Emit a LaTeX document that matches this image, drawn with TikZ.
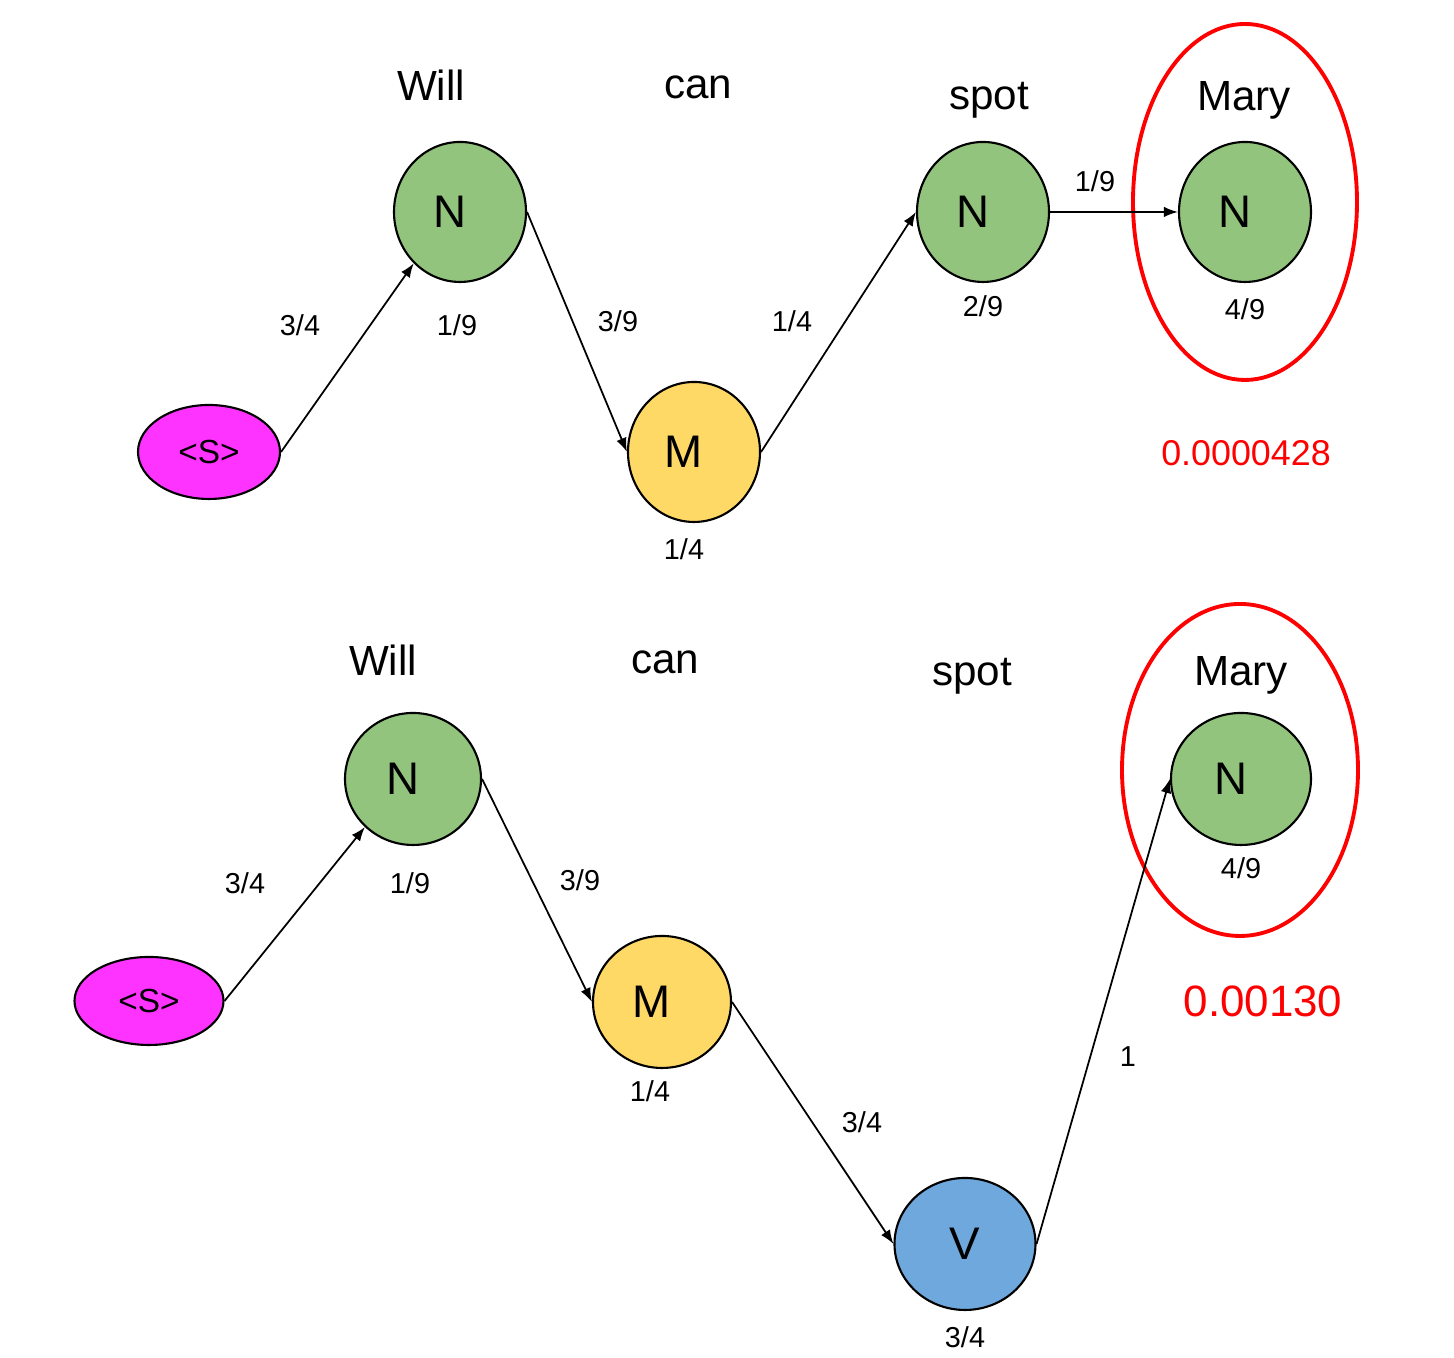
\documentclass[tikz,border=0pt]{standalone}
\usepackage{fontspec}
\setmainfont{Liberation Sans}
\usepackage{tikz}
\usetikzlibrary{arrows.meta,shapes.geometric}

\definecolor{tagGreen}{HTML}{93C47D}
\definecolor{tagYellow}{HTML}{FFD966}
\definecolor{tagBlue}{HTML}{6FA8DC}
\definecolor{tagPink}{HTML}{FF33FF}
\definecolor{pathRed}{HTML}{FF0000}

\begin{document}
\begin{tikzpicture}[
    tagnode/.style={ellipse,draw,line width=0.6pt,inner sep=0pt,minimum width=1.32cm,minimum height=1.4cm,
      font=\fontsize{13}{15}\selectfont},
    offtag/.style={tagnode,execute at begin node={\hspace*{-0.2cm}}},
    startnode/.style={ellipse,draw,line width=0.6pt,inner sep=0pt,fill=tagPink,font=\fontsize{9.5}{11}\selectfont},
    word/.style={font=\fontsize{12}{14}\selectfont},
    prob/.style={font=\fontsize{8.2}{10}\selectfont},
    ring/.style={ellipse,draw=pathRed,line width=1.1pt,inner sep=0pt},
    edge/.style={line width=0.5pt,-{Latex[length=4pt,width=3pt]}}
  ]
    \useasboundingbox (0,0) rectangle (14.54,13.58);

    % Top path: <S> N M N N
    \node[startnode,minimum width=1.42cm,minimum height=0.94cm] (sa) at (2.09,9.06) {<S>};
    \node[offtag,fill=tagGreen] (na) at (4.60,11.46) {N};
    \node[offtag,fill=tagYellow] (ma) at (6.94,9.06) {M};
    \node[offtag,fill=tagGreen] (nb) at (9.83,11.46) {N};
    \node[offtag,fill=tagGreen] (nc) at (12.45,11.46) {N};
    \node[ring,minimum width=2.24cm,minimum height=3.56cm] (ra) at (12.45,11.56) {};

    % Words
    \node[word] (wa) at (4.31,12.73) {Will};
    \node[word] (wb) at (6.98,12.71) {can};
    \node[word] (wc) at (9.89,12.58) {spot};
    \node[word] (wd) at (12.44,12.58) {Mary};

    % Transitions
    \draw[edge] (sa.east) -- (na.228);
    \draw[edge] (na.east) -- (ma.west);
    \draw[edge] (ma.east) -- (nb.west);
    \draw[edge] (nb.east) -- (nc.west);

    % Probabilities
    \node[prob] (pa) at (3.00,10.33) {3/4};
    \node[prob] (pb) at (4.57,10.33) {1/9};
    \node[prob] (pc) at (6.18,10.37) {3/9};
    \node[prob] (pd) at (6.84,8.09) {1/4};
    \node[prob] (pe) at (7.92,10.37) {1/4};
    \node[prob] (pf) at (9.83,10.52) {2/9};
    \node[prob] (pg) at (10.95,11.77) {1/9};
    \node[prob] (ph) at (12.45,10.49) {4/9};
    \node[text=pathRed,font=\fontsize{10.2}{12}\selectfont] (ta) at (12.46,9.05) {0.0000428};

    % Bottom path: <S> N M V N
    \node[startnode,minimum width=1.49cm,minimum height=0.88cm] (sb) at (1.49,3.57) {<S>};
    \node[offtag,fill=tagGreen,minimum width=1.36cm,minimum height=1.32cm] (nd) at (4.13,5.79) {N};
    \node[offtag,fill=tagYellow,minimum width=1.38cm,minimum height=1.32cm] (mb) at (6.62,3.56) {M};
    \node[tagnode,fill=tagBlue,minimum width=1.41cm,minimum height=1.32cm] (va) at (9.65,1.14) {V};
    \node[offtag,fill=tagGreen,minimum width=1.40cm,minimum height=1.32cm] (ne) at (12.41,5.79) {N};
    \node[ring,minimum width=2.36cm,minimum height=3.32cm] (rb) at (12.40,5.88) {};

    % Words
    \node[word] (we) at (3.83,6.98) {Will};
    \node[word] (wf) at (6.65,6.96) {can};
    \node[word] (wg) at (9.72,6.82) {spot};
    \node[word] (wh) at (12.41,6.83) {Mary};

    % Transitions
    \draw[edge] (sb.east) -- (nd.225);
    \draw[edge] (nd.east) -- (mb.west);
    \draw[edge] (mb.east) -- (va.west);
    \draw[edge] (va.east) -- (ne.west);

    % Probabilities
    \node[prob] (pi) at (2.45,4.75) {3/4};
    \node[prob] (pj) at (4.10,4.75) {1/9};
    \node[prob] (pk) at (5.80,4.78) {3/9};
    \node[prob] (pl) at (6.50,2.67) {1/4};
    \node[prob] (pm) at (8.62,2.36) {3/4};
    \node[prob] (pn) at (9.65,0.21) {3/4};
    \node[prob] (po) at (11.28,3.01) {1};
    \node[prob] (pp) at (12.41,4.90) {4/9};
    \node[text=pathRed,font=\fontsize{12.5}{15}\selectfont] (tb) at (12.63,3.57) {0.00130};
\end{tikzpicture}
\end{document}
